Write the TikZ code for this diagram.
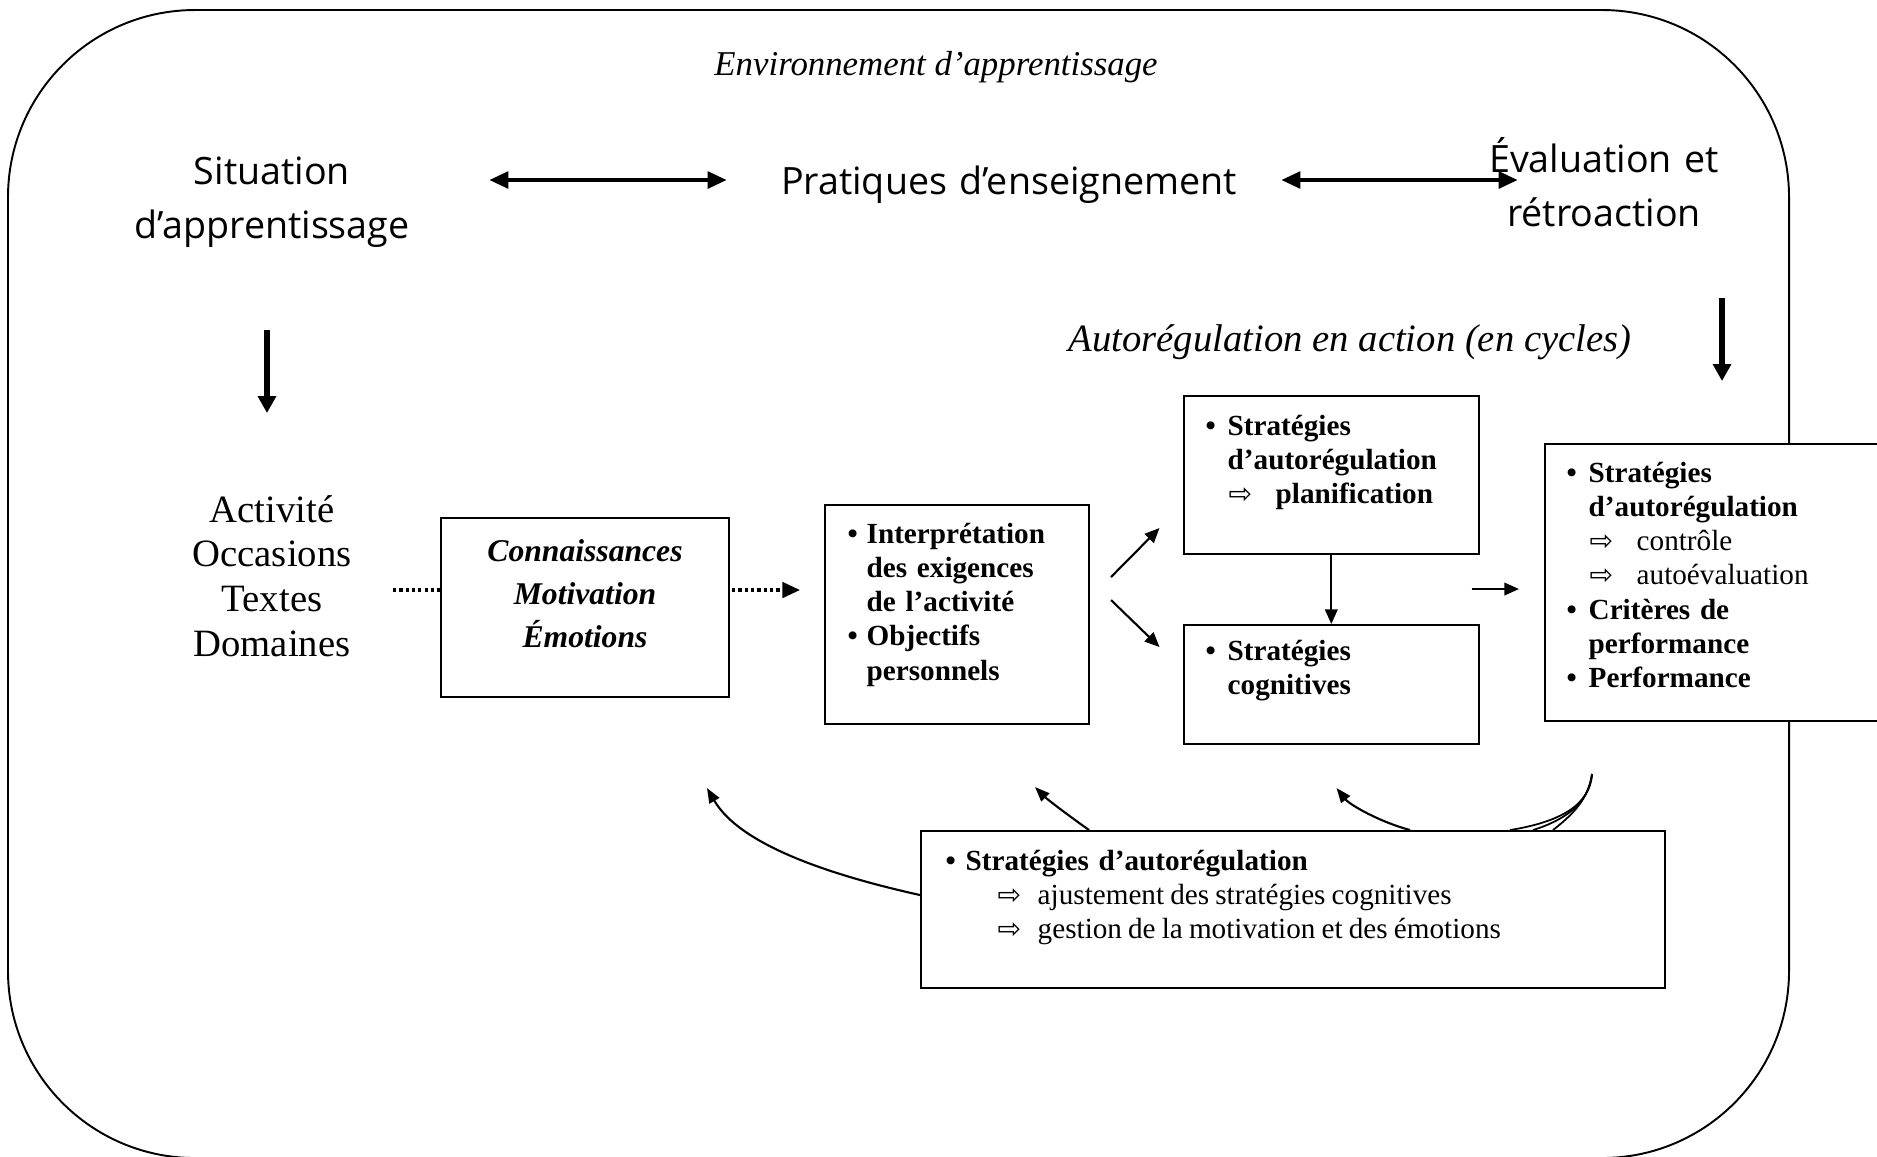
\documentclass[tikz,border=0pt]{standalone}
\usepackage{fontspec}
\setmainfont{Liberation Serif}
\newfontfamily\comicf{Open Sans}
\newfontfamily\symf{DejaVu Sans}
\usetikzlibrary{arrows.meta,calc}
\newlength{\pxl}\setlength{\pxl}{0.01cm}
\newcommand{\arrsym}{{\symf\mdseries\fontsize{8}{8}\selectfont ⇨}}
\newcommand{\bul}[1]{\makebox[#1][l]{•}}
\begin{document}
\begin{tikzpicture}[x=0.01cm,y=-0.01cm,
  boxs/.style={draw, line width=0.6pt, fill=white, inner sep=0pt, anchor=north west},
  btext/.style={font=\fontsize{8.3}{9.76}\selectfont\bfseries, inner sep=0pt, anchor=base west, text width=#1, align=left},
  comic/.style={font=\comicf\fontsize{10.7}{15.5}\selectfont, inner sep=0pt, anchor=base, align=center, text width=6cm},
  envtext/.style={font=\fontsize{9.9}{12}\selectfont\itshape, inner sep=0pt},
  autotext/.style={font=\fontsize{11}{13}\selectfont\itshape, inner sep=0pt},
  acttext/.style={font=\fontsize{11}{12.7}\selectfont, inner sep=0pt, anchor=base, align=center, text width=3cm},
  conntext/.style={font=\fontsize{9}{12.3}\selectfont\bfseries\itshape, inner sep=0pt, anchor=base, align=center, text width=3cm},
  dbl/.style={line width=1.4pt, {Triangle[length=5.5pt,width=4.6pt]}-{Triangle[length=5.5pt,width=4.6pt]}},
  varr/.style={line width=1.6pt, -{Triangle[length=4.8pt,width=5pt]}},
  tarr/.style={line width=0.6pt, -{Triangle[length=4.2pt,width=3.6pt]}},
  carr/.style={line width=0.6pt, -{Triangle[length=4.2pt,width=3.2pt]}},
  dotl/.style={line width=0.9pt, dash pattern=on 0.9pt off 0.9pt},
  fanl/.style={line width=0.5pt}
]
\useasboundingbox (0,0) rectangle (1877,1156);
\clip (0,0) rectangle (1877,1156);

% outer environment
\draw[line width=0.55pt, rounded corners=1.87cm] (8,10) rectangle (1789,1158);

% titles
\node[envtext] (env) at (936,67) {Environnement d’apprentissage};
\node[comic] (sit) at (272,184) {Situation\\d’apprentissage};
\node[comic] (prat) at (1009,194) {Pratiques d’enseignement};
\node[comic] (eval) at (1604,172) {Évaluation et\\rétroaction};
\node[autotext] (auto) at (1350,342) {Autorégulation en action (en cycles)};
\node[acttext] (act) at (272,522) {Activité\\Occasions\\Textes\\Domaines};

% boxes
\node[boxs, minimum width=288\pxl, minimum height=179\pxl] (conn) at (440,517) {};
\node[conntext] (conntxt) at (585,561) {Connaissances\\Motivation\\Émotions};

\node[boxs, minimum width=263.5\pxl, minimum height=219\pxl] (interp) at (824,504) {};
\node[btext=240\pxl] (interptxt) at (847,543) {\bul{19\pxl}Interprétation\\
\hspace*{19\pxl}des exigences\\
\hspace*{19\pxl}de l’activité\\
\bul{19\pxl}Objectifs\\
\hspace*{19\pxl}personnels};

\node[boxs, minimum width=294.5\pxl, minimum height=158\pxl] (planif) at (1183,395) {};
\node[btext=280\pxl] (planiftxt) at (1205,435) {\bul{22\pxl}Stratégies\\
\hspace*{22\pxl}d’autorégulation\\
\hspace*{23\pxl}\makebox[47\pxl][l]{\arrsym}planification};

\node[boxs, minimum width=294.5\pxl, minimum height=119\pxl] (cog) at (1183,624) {};
\node[btext=280\pxl] (cogtxt) at (1205,660) {\bul{22\pxl}Stratégies\\
\hspace*{22\pxl}cognitives};

\node[boxs, minimum width=420\pxl, minimum height=277\pxl] (rightb) at (1543.5,443) {};
\node[btext=300\pxl] (righttxt) at (1566,482) {\bul{22\pxl}Stratégies\\
\hspace*{22\pxl}d’autorégulation\\
\hspace*{23\pxl}\makebox[47\pxl][l]{\arrsym}{\mdseries contrôle}\\
\hspace*{23\pxl}\makebox[47\pxl][l]{\arrsym}{\mdseries autoévaluation}\\
\bul{22\pxl}Critères de\\
\hspace*{22\pxl}performance\\
\bul{22\pxl}Performance};

\node[boxs, minimum width=744\pxl, minimum height=157\pxl] (bot) at (920,830) {};
\node[btext=700\pxl] (bottxt) at (945,870) {\bul{20\pxl}Stratégies d’autorégulation\\
\hspace*{52\pxl}\makebox[40\pxl][l]{\arrsym}{\mdseries\spaceskip=0.21em ajustement des stratégies cognitives}\\
\hspace*{52\pxl}\makebox[40\pxl][l]{\arrsym}{\mdseries\spaceskip=0.21em gestion de la motivation et des émotions}};

% thick arrows
\coordinate (d1a) at (489,180); \coordinate (d1b) at (727,180);
\draw[dbl] (d1a) -- (d1b);
\coordinate (d2a) at (1281,180); \coordinate (d2b) at (1518,180);
\draw[dbl] (d2a) -- (d2b);
\coordinate (v1a) at (267,330); \coordinate (v1b) at (267,413);
\draw[varr] (v1a) -- (v1b);
\coordinate (v2a) at (1722,298); \coordinate (v2b) at (1722,381);
\draw[varr] (v2a) -- (v2b);

% dotted connectors
\coordinate (dl) at (393,590);
\draw[dotl] (dl) -- (conn.west |- dl);
\coordinate (dr) at (800,590);
\draw[dotl, -{Triangle[length=5pt,width=4.4pt]}] ($(conn.east |- dr)+(2,0)$) -- (dr);

% thin arrows
\coordinate (ua) at (1111,577); \coordinate (ub) at (1159.5,528);
\draw[tarr] (ua) -- (ub);
\coordinate (da) at (1111,600); \coordinate (db) at (1159.5,647);
\draw[tarr] (da) -- (db);
\draw[tarr] (planif.south) -- (cog.north);
\coordinate (ra) at (1471.5,589); \coordinate (rb) at (1519,589);
\draw[tarr] (ra) -- (rb);

% curved feedback arrows
\coordinate (c1s) at (920,895); \coordinate (c1e) at (707,788);
\draw[carr] (c1s) .. controls (830,875) and (740,845) .. (c1e);
\coordinate (c2s) at (1089,830); \coordinate (c2e) at (1035,787);
\draw[carr] (c2s) .. controls (1072,818) and (1048,800) .. (c2e);
\coordinate (c3s) at (1410,830); \coordinate (c3e) at (1336.5,788);
\draw[carr] (c3s) .. controls (1380,822) and (1350,805) .. (c3e);

% fan of curves into the bottom box
\coordinate (fan) at (1592,774);
\coordinate (fa) at (1510,830); \coordinate (fb) at (1533,830); \coordinate (fc) at (1553,830);
\draw[fanl] (fan) .. controls (1590,805) and (1560,822) .. (fa);
\draw[fanl] (fan) .. controls (1589,803) and (1565,820) .. (fb);
\draw[fanl] (fan) .. controls (1588,800) and (1572,815) .. (fc);
\end{tikzpicture}
\end{document}
